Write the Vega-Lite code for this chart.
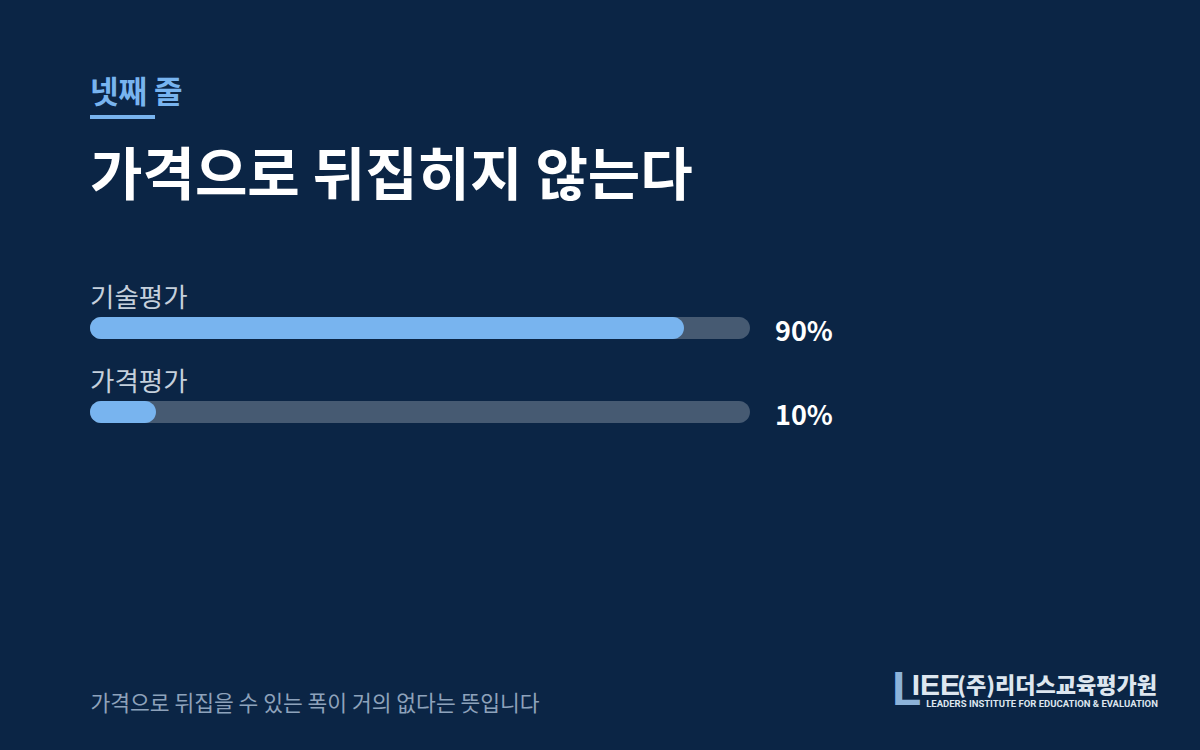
{
  "$schema": "https://vega.github.io/schema/vega-lite/v6.json",
  "description": "넷째 줄 - 가격으로 뒤집히지 않는다 (기술평가 90%, 가격평가 10%)",
  "width": 1200,
  "height": 750,
  "autosize": {"type": "fit", "contains": "padding"},
  "padding": {"left": 90, "top": 78, "right": 40, "bottom": 35},
  "background": "#0b2545",
  "title": {
    "text": "넷째 줄",
    "subtitle": "가격으로 뒤집히지 않는다",
    "anchor": "start",
    "frame": "group",
    "font": "Noto Sans CJK KR",
    "fontSize": 31,
    "fontWeight": "bold",
    "color": "#78b4ef",
    "subtitleFont": "Noto Sans CJK KR",
    "subtitleFontSize": 57,
    "subtitleFontWeight": "bold",
    "subtitleColor": "#ffffff",
    "subtitlePadding": 40,
    "offset": -92
  },
  "data": {
    "values": [
      {"항목": "기술평가", "비율": 90, "표시": "90%"},
      {"항목": "가격평가", "비율": 10, "표시": "10%"}
    ]
  },
  "encoding": {
    "y": {
      "field": "항목",
      "type": "nominal",
      "sort": null,
      "scale": {"domain": ["기술평가", "가격평가"], "range": [35, 203], "paddingInner": 0, "paddingOuter": 0},
      "axis": null
    }
  },
  "layer": [
    {
      "mark": {"type": "bar", "height": 22, "cornerRadius": 11, "color": "#465a72"},
      "encoding": {
        "x": {
          "datum": 0,
          "type": "quantitative",
          "scale": {"domain": [0, 100], "range": [0, 660], "zero": true, "nice": false},
          "axis": {
            "title": "가격으로 뒤집을 수 있는 폭이 거의 없다는 뜻입니다",
            "labels": false,
            "ticks": false,
            "domain": false,
            "grid": false,
            "titleAnchor": "start",
            "titleAlign": "left",
            "titleFont": "Noto Sans CJK KR",
            "titleFontSize": 21.5,
            "titleFontWeight": "normal",
            "titleColor": "#8ea2bb",
            "titlePadding": 0
          }
        },
        "x2": {"datum": 100}
      }
    },
    {
      "mark": {"type": "bar", "height": 22, "cornerRadius": 11, "color": "#78b4ef"},
      "encoding": {
        "x": {"field": "비율", "type": "quantitative"}
      }
    },
    {
      "mark": {"type": "text", "align": "left", "baseline": "middle", "dy": -29, "font": "Noto Sans CJK KR", "fontSize": 26.5, "color": "#c5d0dc"},
      "encoding": {
        "x": {"datum": 0, "type": "quantitative"},
        "text": {"field": "항목"}
      }
    },
    {
      "mark": {"type": "text", "align": "left", "baseline": "middle", "dx": 25, "dy": 5, "font": "Noto Sans CJK KR", "fontSize": 27, "fontWeight": "bold", "color": "#ffffff"},
      "encoding": {
        "x": {"datum": 100, "type": "quantitative"},
        "text": {"field": "표시"}
      }
    },
    {
      "data": {"values": [{"표시선": "넷째"}]},
      "mark": {"type": "bar", "height": 4, "yOffset": -211, "color": "#78b4ef"},
      "encoding": {
        "x": {"datum": 0, "type": "quantitative"},
        "x2": {"datum": 9.85},
        "y": {"datum": "기술평가", "type": "nominal"}
      }
    },
    {
      "data": {"values": [{"로고": "L"}]},
      "mark": {"type": "text", "align": "left", "baseline": "middle", "dy": 279, "font": "Liberation Sans", "fontSize": 48, "fontWeight": "bold", "color": "#8db3d9"},
      "encoding": {
        "x": {"datum": 121.5, "type": "quantitative"},
        "y": {"datum": "가격평가", "type": "nominal"},
        "text": {"field": "로고"}
      }
    },
    {
      "data": {"values": [{"로고": "IEE"}]},
      "mark": {"type": "text", "align": "left", "baseline": "middle", "dy": 274, "font": "Liberation Sans", "fontSize": 30, "fontWeight": "bold", "color": "#dde6ef"},
      "encoding": {
        "x": {"datum": 124.5, "type": "quantitative"},
        "y": {"datum": "가격평가", "type": "nominal"},
        "text": {"field": "로고"}
      }
    },
    {
      "data": {"values": [{"로고": "(주)리더스교육평가원"}]},
      "mark": {"type": "text", "align": "left", "baseline": "middle", "dy": 274, "font": "Noto Sans CJK KR", "fontSize": 22, "fontWeight": 900, "color": "#dde6ef"},
      "encoding": {
        "x": {"datum": 131.4, "type": "quantitative"},
        "y": {"datum": "가격평가", "type": "nominal"},
        "text": {"field": "로고"}
      }
    },
    {
      "data": {"values": [{"로고": "LEADERS INSTITUTE FOR EDUCATION & EVALUATION"}]},
      "mark": {"type": "text", "align": "right", "baseline": "middle", "dy": 292, "font": "Roboto", "fontSize": 9.5, "fontWeight": "bold", "color": "#dde6ef"},
      "encoding": {
        "x": {"datum": 161.8, "type": "quantitative"},
        "y": {"datum": "가격평가", "type": "nominal"},
        "text": {"field": "로고"}
      }
    }
  ],
  "config": {
    "view": {"stroke": null},
    "font": "Noto Sans CJK KR"
  }
}
